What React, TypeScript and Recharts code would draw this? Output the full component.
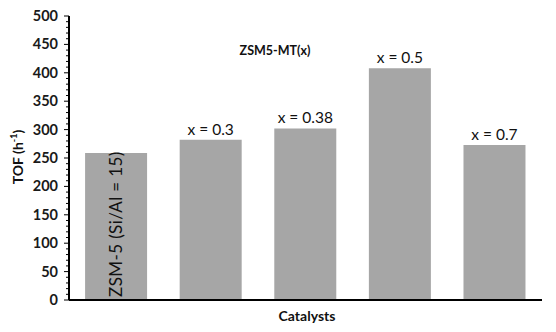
import React from 'react';
import { BarChart, Bar, XAxis, YAxis, LabelList, Customized } from 'recharts';

const categories = ['ZSM-5 (Si/Al = 15)', 'x = 0.3', 'x = 0.38', 'x = 0.5', 'x = 0.7'];
const tofValues = [259, 282, 302, 408, 273];
const majorTicks = [0, 50, 100, 150, 200, 250, 300, 350, 400, 450, 500];
const minorTicks = [
  0, 10, 20, 30, 40, 50, 60, 70, 80, 90, 100, 110, 120, 130, 140, 150, 160, 170, 180, 190, 200,
  210, 220, 230, 240, 250, 260, 270, 280, 290, 300, 310, 320, 330, 340, 350, 360, 370, 380, 390, 400,
  410, 420, 430, 440, 450, 460, 470, 480, 490, 500,
];
const titleText = 'ZSM5-MT(x)';
const xTitle = 'Catalysts';

const data = categories.map((c, i) => ({ name: c, value: tofValues[i] }));

const FONT = 'Lato, "Open Sans", sans-serif';

const YTick = (props: any) => {
  const { x, y, payload } = props;
  const isMajor = majorTicks.includes(payload.value);
  return (
    <g>
      <line x1={x - (isMajor ? 5 : 3)} x2={x} y1={y} y2={y} stroke="#000" strokeWidth={1} />
      {isMajor && (
        <text x={x - 11} y={y} dy={5} textAnchor="end" fontFamily={FONT} fontWeight={700} fontSize={14.5} fill="#1a1a1a">
          {payload.value}
        </text>
      )}
    </g>
  );
};

const BarLabel = (props: any) => {
  const { x, y, width, height, index, value } = props;
  if (index === 0) {
    const cx = x + width / 2;
    const by = y + height - 3;
    return (
      <text
        x={cx}
        y={by}
        transform={`rotate(-90 ${cx} ${by})`}
        dy={6}
        textAnchor="start"
        fontFamily={FONT}
        fontSize={17}
        letterSpacing={0.4}
        fill="#111"
      >
        {value}
      </text>
    );
  }
  return (
    <text x={x + width / 2} y={y - 5} textAnchor="middle" fontFamily={FONT} fontSize={15.5} fill="#111">
      {value}
    </text>
  );
};

const Extras = () => (
  <g>
    <text x={275} y={55} textAnchor="middle" fontFamily={FONT} fontWeight={700} fontSize={12.5} fill="#111">
      {titleText}
    </text>
    <text x={307} y={321} textAnchor="middle" fontFamily={FONT} fontWeight={700} fontSize={14} fill="#111">
      {xTitle}
    </text>
    <text
      x={18}
      y={157}
      transform="rotate(-90 18 157)"
      dy={5}
      textAnchor="middle"
      fontFamily={FONT}
      fontWeight={700}
      fontSize={14}
      fill="#111"
    >
      TOF (h
      <tspan fontSize={9} dy={-6}>-1</tspan>
      <tspan dy={6}>)</tspan>
    </text>
  </g>
);

export default function App() {
  return (
    <div style={{ position: 'absolute', left: 0, top: 0, background: '#fff' }}>
      <BarChart
        width={556}
        height={332}
        data={data}
        margin={{ top: 16, right: 14, bottom: 0, left: 0 }}
        barCategoryGap="17%"
      >
        <XAxis dataKey="name" tick={false} tickLine={false} height={32} axisLine={{ stroke: '#000', strokeWidth: 2 }} />
        <XAxis xAxisId="top" orientation="top" dataKey="name" tick={false} tickLine={false} height={0} axisLine={{ stroke: '#000', strokeWidth: 1.5 }} />
        <YAxis
          domain={[0, 500]}
          ticks={minorTicks}
          interval={0}
          tick={<YTick />}
          tickLine={false}
          tickSize={0}
          tickMargin={0}
          width={69}
          axisLine={{ stroke: '#000', strokeWidth: 2 }}
        />
        <YAxis yAxisId="right" orientation="right" domain={[0, 500]} tick={false} tickLine={false} width={0} axisLine={{ stroke: '#000', strokeWidth: 1.5 }} />
        <Bar dataKey="value" fill="#a6a6a6" isAnimationActive={false}>
          <LabelList dataKey="name" content={<BarLabel />} />
        </Bar>
        <Customized component={<Extras />} />
      </BarChart>
    </div>
  );
}
